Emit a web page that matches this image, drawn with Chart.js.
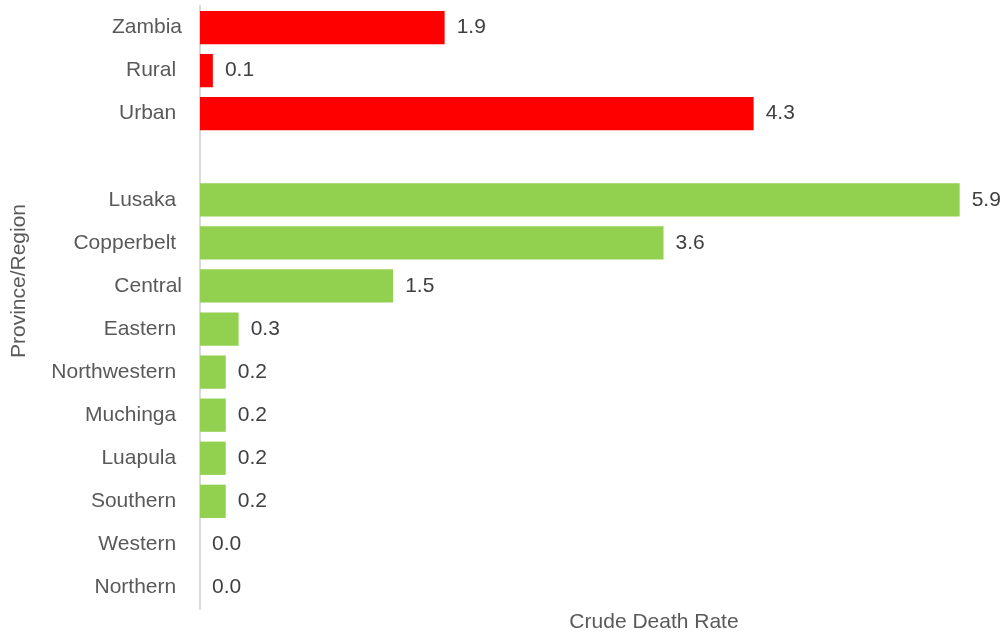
<!DOCTYPE html>
<html>
<head>
<meta charset="utf-8">
<script src="https://cdn.jsdelivr.net/npm/chart.js@4.4.1/dist/chart.umd.min.js"></script>
<style>
  html, body { margin: 0; padding: 0; background: #ffffff; }
  #wrap { width: 1006px; height: 635px; position: relative; }
</style>
</head>
<body>
<div id="wrap"><canvas id="chart" width="1006" height="635"></canvas></div>
<script>
// Crude death rate by province / region (blank row separates the national summary)
const categories = ['Zambia', 'Rural ', 'Urban ', '', 'Lusaka ', 'Copperbelt ', 'Central', 'Eastern ',
  'Northwestern ', 'Muchinga ', 'Luapula ', 'Southern ', 'Western ', 'Northern '];
const rates = [1.9, 0.1, 4.3, null, 5.9, 3.6, 1.5, 0.3, 0.2, 0.2, 0.2, 0.2, 0.0, 0.0];
const groups = ['national', 'national', 'national', null, 'province', 'province', 'province', 'province',
  'province', 'province', 'province', 'province', 'province', 'province'];
const xTitle = 'Crude Death Rate';
const yTitle = 'Province/Region';

const groupColors = { national: '#FF0000', province: '#92D050' };
const FONT = '"Liberation Sans", Arial, sans-serif';
const FONT_SIZE = 21;

// Value labels to the right of each bar, plus the two axis titles
const annotate = {
  id: 'annotate',
  afterDatasetsDraw(chart) {
    const ctx = chart.ctx;
    const meta = chart.getDatasetMeta(0);
    ctx.save();
    ctx.font = FONT_SIZE + 'px ' + FONT;
    ctx.fillStyle = '#404040';
    ctx.textAlign = 'left';
    ctx.textBaseline = 'middle';
    meta.data.forEach((bar, i) => {
      const v = rates[i];
      if (v === null || v === undefined) return;
      ctx.fillText(v.toFixed(1), bar.x + 12, bar.y);
    });
    ctx.restore();
  },
  afterDraw(chart) {
    const ctx = chart.ctx;
    ctx.save();
    ctx.font = FONT_SIZE + 'px ' + FONT;
    ctx.fillStyle = '#595959';
    ctx.textAlign = 'center';
    ctx.textBaseline = 'middle';
    ctx.fillText(xTitle, 654, 622);
    ctx.translate(19, 281);
    ctx.rotate(-Math.PI / 2);
    ctx.fillText(yTitle, 0, 0);
    ctx.restore();
  }
};

new Chart(document.getElementById('chart'), {
  type: 'bar',
  data: {
    labels: categories,
    datasets: [{
      data: rates,
      backgroundColor: groups.map(g => g ? groupColors[g] : 'transparent'),
      borderWidth: 0,
      categoryPercentage: 1.0,
      barPercentage: 0.773
    }]
  },
  options: {
    indexAxis: 'y',
    responsive: false,
    animation: false,
    layout: { padding: { top: 6, bottom: 26, left: 0, right: 0 } },
    plugins: {
      legend: { display: false },
      tooltip: { enabled: false }
    },
    scales: {
      x: {
        display: false,
        min: 0,
        max: 6.26
      },
      y: {
        afterFit(scale) {
          scale.width = 200;
          scale.paddingTop = 0;
          scale.paddingBottom = 0;
        },
        grid: { display: false, drawTicks: false },
        border: { display: true, color: '#D9D9D9', width: 2 },
        ticks: {
          color: '#595959',
          padding: 18,
          autoSkip: false,
          font: { family: FONT, size: FONT_SIZE }
        }
      }
    }
  },
  plugins: [annotate]
});
</script>
</body>
</html>
